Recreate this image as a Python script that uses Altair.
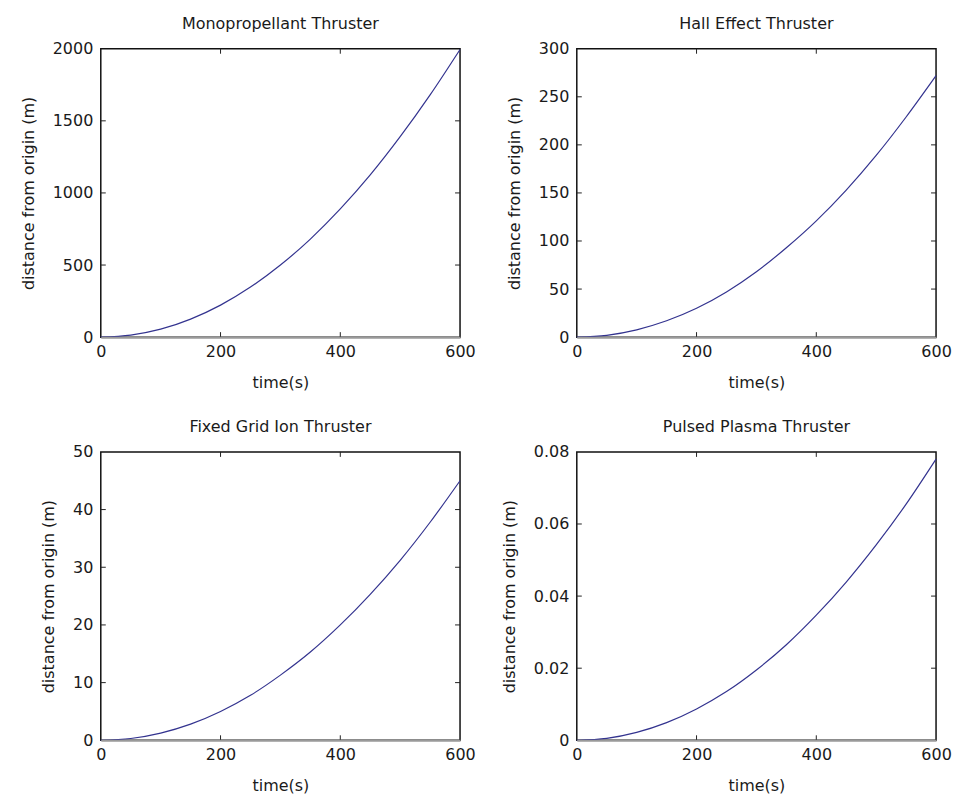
import altair as alt
import pandas as pd

times = [0, 50, 100, 150, 200, 250, 300, 350, 400, 450, 500, 550, 600]

titles = ["Monopropellant Thruster", "Hall Effect Thruster",
          "Fixed Grid Ion Thruster", "Pulsed Plasma Thruster"]

mono = [0, 14, 55, 125, 222, 347, 500, 680, 889, 1125, 1390, 1680, 1995]
hall = [0, 1.9, 7.6, 17, 30, 47, 68, 93, 121, 153, 189, 229, 272]
ion = [0, 0.31, 1.25, 2.8, 5.0, 7.8, 11.3, 15.3, 20.0, 25.3, 31.2, 37.8, 45.0]
ppt = [0, 0.00054, 0.0022, 0.0049, 0.0087, 0.0135, 0.0195, 0.0265, 0.0347,
       0.0439, 0.0542, 0.0655, 0.078]

y_max = [2000, 300, 50, 0.08]
y_ticks = [[0, 500, 1000, 1500, 2000], [0, 50, 100, 150, 200, 250, 300],
           [0, 10, 20, 30, 40, 50], [0, 0.02, 0.04, 0.06, 0.08]]
x_ticks = [0, 200, 400, 600]
y_formats = ["d", "d", "d", "~g"]

W, H = 360, 289
FONT = "DejaVu Sans"
TXT = "#1a1a1a"
LINE = "#33338f"


def panel(i, values):
    df = pd.DataFrame({"t": times, "d": values})
    xs = alt.Scale(domain=[0, 600], nice=False)
    ys = alt.Scale(domain=[0, y_max[i]], nice=False)
    line = alt.Chart(df).mark_line(color=LINE, strokeWidth=1.2, interpolate="monotone").encode(
        x=alt.X("t:Q", scale=xs, title="time(s)",
                axis=alt.Axis(values=x_ticks, grid=False, ticks=False, domain=True,
                              domainColor="#9a9a9a", domainWidth=2, zindex=1,
                              labelFlush=False, labelFont=FONT, labelFontSize=16,
                              labelColor=TXT, labelPadding=6, titleFont=FONT,
                              titleFontSize=16, titleFontWeight="normal", titleColor=TXT,
                              titlePadding=15)),
        y=alt.Y("d:Q", scale=ys, title="distance from origin (m)",
                axis=alt.Axis(values=y_ticks[i], format=y_formats[i], grid=False, ticks=False,
                              domain=False, labelFlush=False, labelFont=FONT,
                              labelFontSize=16, labelColor=TXT, labelPadding=8,
                              titleFont=FONT, titleFontSize=16, titleFontWeight="normal",
                              titleColor=TXT, titlePadding=16)),
    )
    xt = pd.DataFrame({"t": x_ticks[1:-1]})
    yt = pd.DataFrame({"d": y_ticks[i][1:-1]})
    xb = alt.Chart(xt).mark_rule(color="#222", strokeWidth=1).encode(
        x=alt.X("t:Q", scale=xs), y=alt.value(H), y2=alt.value(H - 5))
    xtop = alt.Chart(xt).mark_rule(color="#222", strokeWidth=1).encode(
        x=alt.X("t:Q", scale=xs), y=alt.value(0), y2=alt.value(5))
    yl = alt.Chart(yt).mark_rule(color="#222", strokeWidth=1).encode(
        y=alt.Y("d:Q", scale=ys), x=alt.value(0), x2=alt.value(5))
    yr = alt.Chart(yt).mark_rule(color="#222", strokeWidth=1).encode(
        y=alt.Y("d:Q", scale=ys), x=alt.value(W - 5), x2=alt.value(W))
    return alt.layer(xb, xtop, yl, yr, line).properties(
        width=W, height=H,
        title=alt.TitleParams(titles[i], font=FONT, fontSize=16, fontWeight="normal",
                              color=TXT, offset=9),
    )


series = [mono, hall, ion, ppt]
chart = alt.concat(
    *[panel(i, series[i]) for i in range(4)],
    columns=2,
    spacing={"row": 27, "column": 23},
).configure(
    padding={"left": 19, "top": 14, "right": 5, "bottom": 5},
    background="white",
    view=alt.ViewConfig(stroke="#111", strokeWidth=1.5),
)

chart.save("out.html", embed_options={"renderer": "svg", "actions": False})
